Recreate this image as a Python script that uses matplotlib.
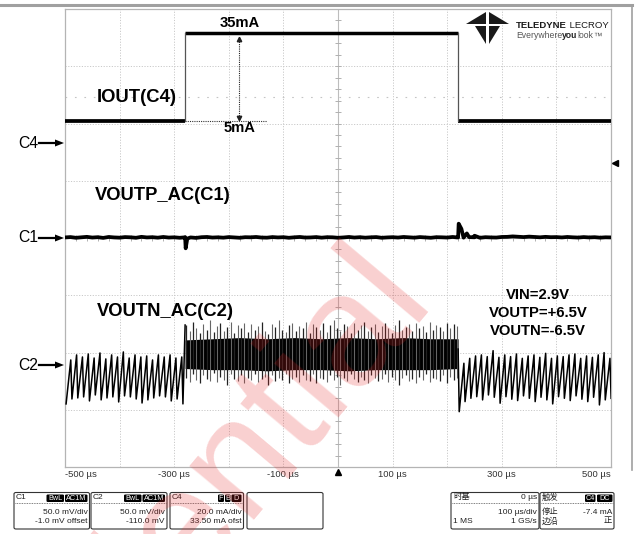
import matplotlib
matplotlib.use("Agg")
import matplotlib.pyplot as plt
from matplotlib.patches import FancyBboxPatch, Polygon
from matplotlib.lines import Line2D
import numpy as np

plt.rcParams['font.family'] = ['Liberation Sans', 'Noto Sans CJK SC', 'DejaVu Sans']

# ---------------- horizontal scale ----------------
time_ticks_us = [-500, -300, -100, 100, 300, 500]
time_tick_labels = ["-500 µs", "-300 µs", "-100 µs", "100 µs", "300 µs", "500 µs"]

# ---------------- load step (C4, IOUT) ----------------
step_times_us = [-280, 220]
iout_levels_mA = [5, 35]

# ---------------- C1: VOUTP, AC coupled ----------------
c1_base_mV = [1.5, 1.8, 1.2, 1.6, 2.0, 1.4, 1.7, 1.1, 1.9, 1.5, 1.3,
              1.8, 1.6, 1.2, 2.0, 1.5, 1.7, 1.3, 1.9, 1.4, 1.6,
              1.2, 1.8, 1.5, 1.1, 1.7, 1.9, 1.4, 1.6, 1.3, 1.8,
              1.5, 1.2, 1.7, 1.6, 1.9, 1.4, 1.3, 1.8, 1.5, 1.7,
              1.2, 1.6, 1.9, 1.4, 1.5, 1.8, 1.3, 1.7, 1.6, 1.2,
              1.5, 1.9, 1.4, 1.7, 1.3, 1.6, 1.8, 1.2, 1.5, 1.7,
              1.4, 1.9, 1.6, 1.3, 1.8, 1.5, 1.2, 1.7, 1.6, 1.4,
              1.9, 1.5, 1.3, 1.8, 1.6, 1.2, 1.7, 1.5, 1.4, 1.9,
              2.0, 2.4, 2.1, 1.8, 2.2, 1.9, 1.6, 2.0, 1.7, 1.8,
              1.5, 1.9, 1.6, 1.4, 1.8, 1.5, 1.7, 1.3, 1.6, 1.5]
c1_event_t_us = [-282, -279, -276, 218, 221, 226, 236, 250]
c1_event_mV = [1.5, -8.0, 0.5, 1.5, 13.5, 9.0, 5.0, 3.0]

# ---------------- C2: VOUTN, AC coupled ----------------
ripple_period_us = 10.7
c2_pre_trough_mV = [-34.9, -30.6, -29.7, -28.8, -32.3, -27.1, -31.4, -29.7, -28.8, -33.2, -27.9,
                    -28.8, -30.6, -34.1, -31.4, -29.7, -27.9, -28.8, -32.3, -30.6, -34.9]
c2_pre_peak_mV = [3.5, 7.9, 6.1, 8.7, 5.2, 9.6, 4.4, 7.9, 6.1, 10.5,
                  5.2, 7.9, 6.1, 7.0, 3.5, 7.9, 6.1, 7.9, 5.2, 6.1]
c2_post_trough_mV = [-41.7, -32.9, -30.0, -28.6, -31.4, -27.1, -29.1, -34.3, -28.6, -30.8, -32.0,
                     -27.9, -30.0, -32.9, -29.1, -31.4, -34.9, -28.6, -30.0, -32.0, -27.9,
                     -30.8, -32.9, -29.1, -35.8, -31.4, -30.0]
c2_post_peak_mV = [0.6, 4.9, 7.0, 7.9, 6.4, 11.6, 5.8, 7.9, 6.4, 8.7, 4.9, 7.0, 7.9,
                   5.8, 9.3, 4.9, 7.0, 6.4, 7.9, 8.7, 4.9, 7.0, 5.8, 7.9, 9.9, 4.9]
c2_core_top_mV = [21, 22, 23, 22, 23, 22, 23, 22, 23, 22, 22]
c2_core_bot_mV = [-4, -5, -5, -6, -5, -5, -6, -5, -5, -5, -4]
c2_spike_top_mV = [34, 29, 37, 31, 27, 35, 30, 38, 28, 33, 36, 29, 32, 37, 27, 34,
                   31, 36, 28, 35, 30, 33, 37, 29, 26, 35, 32, 38, 30, 28, 34, 36,
                   29, 33, 31, 37, 27, 35, 32, 30, 36, 28, 34, 38, 31, 29, 35, 33,
                   27, 36, 30, 34, 37, 29, 32, 35, 28, 33, 36, 31, 27, 34, 38, 30,
                   32, 35, 29, 36, 31, 33, 28, 37, 30, 34, 32, 29, 36, 31, 35, 33]
c2_spike_bot_mV = [-12, -16, -9, -14, -17, -10, -13, -15, -8, -16, -11, -14, -18, -9, -13, -15,
                   -10, -17, -12, -14, -9, -16, -13, -11, -18, -10, -15, -12, -14, -9, -17, -13,
                   -11, -16, -10, -14, -15, -9, -17, -12, -13, -16, -10, -14, -11, -18, -12, -15,
                   -9, -13, -16, -11, -14, -17, -10, -12, -15, -13, -9, -16, -11, -14, -18, -12,
                   -10, -15, -13, -17, -11, -14, -9, -16, -12, -13, -15, -10, -17, -11, -14, -12]

# channel display settings (volts/div and offsets shown in the channel boxes)
C1_SCALE, C1_OFFSET = 50.0, 1.0        # mV/div, mV shift on screen
C2_SCALE, C2_OFFSET = 50.0, -110.0
IOUT_SCALE, IOUT_ZERO_DIV = 19.5, 1.784  # mA/div, zero line position (div)


def c1_div(v):
    return (np.asarray(v, float) - C1_OFFSET) / C1_SCALE


def c2_div(v):
    return (np.asarray(v, float) + C2_OFFSET) / C2_SCALE


def c4_div(v):
    return IOUT_ZERO_DIV + np.asarray(v, float) / IOUT_SCALE


# ---------------- figure ----------------
W, H = 636, 534
fig = plt.figure(figsize=(W / 100, H / 100), dpi=100)
fig.patch.set_facecolor('white')


def fx(x):
    return x / W


def fy(y):
    return 1 - y / H


AX_L, AX_R, AX_T, AX_B = 65, 611, 9, 467
ax = fig.add_axes([fx(AX_L), fy(AX_B), (AX_R - AX_L) / W, (AX_B - AX_T) / H])
ax.set_xlim(-500, 500)
ax.set_ylim(-4, 4)
for s in ax.spines.values():
    s.set_color('#b4b4b4')
    s.set_linewidth(0.9)
ax.set_yticks([])
ax.set_xticks(time_ticks_us, time_tick_labels)
ax.tick_params(axis='x', length=0, pad=2.0, labelsize=6.8, colors='#333333')
tl = ax.get_xticklabels()
tl[0].set_horizontalalignment('left')
tl[-1].set_horizontalalignment('right')

# graticule
grid_kw = dict(color='#c9c9c9', lw=0.7, ls=(0, (1.2, 1.6)), zorder=1)
for gx in range(-400, 500, 100):
    if gx != 0:
        ax.axvline(gx, **grid_kw)
for gy in [-3, -2, -1, 1, 2, 3]:
    ax.axhline(gy, **grid_kw)
ax.axvline(0, color='#bdbdbd', lw=0.8, zorder=1)
ax.axhline(0, color='#bdbdbd', lw=0.8, zorder=1)
ax.plot(np.zeros(41), np.linspace(-4, 4, 41), ls='none', marker='_', ms=4,
        mew=0.7, color='#b0b0b0', zorder=1)
ax.plot(np.linspace(-500, 500, 51), np.zeros(51), ls='none', marker='|', ms=4,
        mew=0.7, color='#b0b0b0', zorder=1)
ax.axhline(2.47, color='#c4c4c4', lw=0.8, ls=(0, (1.5, 7)), zorder=1)

# ---------------- IOUT trace ----------------
lo, hi = c4_div(iout_levels_mA)
t_on, t_off = step_times_us
ax.plot([-500, t_on], [lo, lo], color='black', lw=2.7, solid_capstyle='butt', zorder=4)
ax.plot([t_on, t_off], [hi, hi], color='black', lw=2.5, solid_capstyle='butt', zorder=4)
ax.plot([t_off, 500], [lo, lo], color='black', lw=2.7, solid_capstyle='butt', zorder=4)
ax.plot([t_on, t_on], [lo, hi], color='#555555', lw=0.9, zorder=4)
ax.plot([t_off, t_off], [lo, hi], color='#555555', lw=0.9, zorder=4)

# step size marker
ax.plot([t_on, -130], [lo, lo], color='#333333', lw=0.8, ls=(0, (1, 1)), zorder=3)
t_arrow = -180.8
ax.plot([t_arrow, t_arrow], [lo + 0.05, hi - 0.1], color='#222222', lw=0.8,
        ls=(0, (1, 1)), zorder=3)
ax.plot([t_arrow], [hi - 0.1], marker='^', ms=3.2, color='#222222', zorder=3)
ax.plot([t_arrow], [lo + 0.05], marker='v', ms=3.2, color='#222222', zorder=3)

# ---------------- C1 trace ----------------
c1_t = list(np.linspace(-500, 500, len(c1_base_mV)))
c1_v = list(c1_base_mV)
pairs = sorted(list(zip(c1_t, c1_v)) + list(zip(c1_event_t_us, c1_event_mV)))
ct, cv = zip(*pairs)
ax.plot(ct, c1_div(cv), color='black', lw=2.7, zorder=4)

# ---------------- C2 trace ----------------
T = ripple_period_us
pre_t, pre_v = [], []
t_first = -498.0
for i, tr in enumerate(c2_pre_trough_mV):
    t0 = t_first + i * T
    pre_t.append(t0)
    pre_v.append(tr)
    if i < len(c2_pre_peak_mV):
        pre_t.append(t0 + 0.8 * T)
        pre_v.append(c2_pre_peak_mV[i])
pre_t.append(t_on)
pre_v.append(c2_spike_top_mV[0])
ax.plot(pre_t, c2_div(pre_v), color='black', lw=1.1, zorder=4)

core_t = np.linspace(t_on, t_off, len(c2_core_top_mV))
ax.fill_between(core_t, c2_div(c2_core_bot_mV), c2_div(c2_core_top_mV),
                color='black', lw=0, zorder=4)
spike_t = np.linspace(t_on + 2, t_off - 2, len(c2_spike_top_mV))
ax.vlines(spike_t[0::2], c2_div(c2_spike_bot_mV[0::2]), c2_div(c2_spike_top_mV[0::2]),
          color='#222222', lw=0.9, zorder=4)
ax.vlines(spike_t[1::2], c2_div(c2_spike_bot_mV[1::2]), c2_div(c2_spike_top_mV[1::2]),
          color='#666666', lw=0.8, zorder=4)

post_t, post_v = [t_off], [c2_spike_top_mV[-1] - 20]
t_first_post = 222.0
for i, tr in enumerate(c2_post_trough_mV):
    t0 = t_first_post + i * T
    post_t.append(t0)
    post_v.append(tr)
    if i < len(c2_post_peak_mV):
        post_t.append(t0 + 0.8 * T)
        post_v.append(c2_post_peak_mV[i])
ax.plot(post_t, c2_div(post_v), color='black', lw=1.1, zorder=4)

# trigger markers
ax.plot([0], [-4.08], marker='^', ms=4.5, color='black', clip_on=False, zorder=6)
ax.plot([507.5], [1.31], marker='<', ms=4.5, color='black', clip_on=False, zorder=6)

# ---------------- trace annotations ----------------
bold = dict(fontweight='bold', color='black')
fig.text(fx(240), fy(23), "35mA", fontsize=10.6, ha='center', va='center', **bold)
fig.text(fx(240), fy(128), "5mA", fontsize=10.6, ha='center', va='center', **bold)
fig.text(fx(97), fy(98), "IOUT(C4)", fontsize=13.3, ha='left', va='center', **bold)
fig.text(fx(95), fy(196), "VOUTP_AC(C1)", fontsize=13.2, ha='left', va='center', **bold)
fig.text(fx(97), fy(312), "VOUTN_AC(C2)", fontsize=13.2, ha='left', va='center', **bold)
for txt, yy in [("VIN=2.9V", 295), ("VOUTP=+6.5V", 313), ("VOUTN=-6.5V", 331)]:
    fig.text(fx(538), fy(yy), txt, fontsize=10.7, ha='center', va='center', **bold)

for name, yy in [("C4", 143), ("C1", 238), ("C2", 365)]:
    fig.text(fx(38), fy(yy), name, fontsize=11.3, ha='right', va='center', color='black')
    fig.add_artist(Line2D([fx(39), fx(57)], [fy(yy), fy(yy)], color='black', lw=1.6))
    fig.add_artist(Polygon([[fx(55), fy(yy - 3.5)], [fx(64), fy(yy)], [fx(55), fy(yy + 3.5)]],
                           closed=True, color='black', lw=0))

# ---------------- screen frame ----------------
fig.add_artist(Line2D([0, fx(632)], [fy(4.5), fy(4.5)], color='#a0a0a0', lw=2.2))
fig.add_artist(Line2D([fx(632), fx(632)], [fy(4.5), fy(470)], color='#a0a0a0', lw=1.2))

# ---------------- logo ----------------
logo = [
    [(466, 24), (486, 12), (486, 24)],
    [(475, 26), (486, 26), (486, 44)],
    [(509, 24), (489, 12), (489, 24)],
    [(500, 26), (489, 26), (489, 44)],
]
for poly in logo:
    fig.add_artist(Polygon([[fx(a), fy(b)] for a, b in poly], closed=True,
                           color='#1a1a1a', lw=0))

renderer = fig.canvas.get_renderer()


def run_text(x, y, pieces, size):
    for txt, weight, col in pieces:
        t = fig.text(fx(x), fy(y), txt, fontsize=size, fontweight=weight, color=col,
                     ha='left', va='center')
        x += t.get_window_extent(renderer).width


run_text(516, 26, [("TELEDYNE", 'bold', '#1a1a1a'), (" LECROY", 'normal', '#1a1a1a')], 6.8)
run_text(516, 36, [("Everywhere", 'normal', '#555555'), ("you", 'bold', '#222222'),
                   ("look", 'normal', '#555555'), ("™", 'normal', '#555555')], 6.2)

# ---------------- info boxes ----------------
BOX_T, BOX_B = 492.5, 529
SEP_Y = 503
ROW_Y = [497.5, 512, 521.5]


def info_box(x0, x1, header="", header_r="", badges=(), rows=()):
    fig.add_artist(FancyBboxPatch((fx(x0), fy(BOX_B)), (x1 - x0) / W, (BOX_B - BOX_T) / H,
                                  boxstyle="round,pad=0,rounding_size=0.003",
                                  transform=fig.transFigure, fc='white', ec='#333333', lw=0.8))
    if header or badges or header_r:
        fig.add_artist(Line2D([fx(x0 + 1), fx(x1 - 1)], [fy(SEP_Y), fy(SEP_Y)],
                              color='#555555', lw=0.6, ls=(0, (1, 1))))
    if header:
        fig.text(fx(x0 + 2), fy(ROW_Y[0]), header, fontsize=6, ha='left', va='center',
                 color='#222222')
    if header_r:
        fig.text(fx(x1 - 2), fy(ROW_Y[0]), header_r, fontsize=6, ha='right', va='center',
                 color='#222222')
    for bx0, bx1, label in badges:
        fig.add_artist(FancyBboxPatch((fx(bx0), fy(502)), (bx1 - bx0) / W, 7.5 / H,
                                      boxstyle="round,pad=0,rounding_size=0.002",
                                      transform=fig.transFigure, fc='black', ec='none'))
        fig.text(fx((bx0 + bx1) / 2), fy(498.3), label, fontsize=5.2, ha='center',
                 va='center', color='white')
    for r, (left, right) in enumerate(rows):
        yy = ROW_Y[r + 1]
        if left:
            fig.text(fx(x0 + 2), fy(yy), left, fontsize=6, ha='left', va='center',
                     color='#222222')
        if right:
            fig.text(fx(x1 - 2), fy(yy), right, fontsize=6, ha='right', va='center',
                     color='#222222')


info_box(14, 89.5, "C1", badges=[(46.5, 64, "BwL"), (65, 87.5, "AC1M")],
         rows=[("", "50.0 mV/div"), ("", "-1.0 mV offset")])
info_box(91, 167, "C2", badges=[(124, 141.5, "BwL"), (142.5, 165, "AC1M")],
         rows=[("", "50.0 mV/div"), ("", "-110.0 mV")])
info_box(170, 243.5, "C4", badges=[(218, 224, "F"), (225, 230.5, "B"), (231.5, 241.5, "D")],
         rows=[("", "20.0 mA/div"), ("", "33.50 mA ofst")])
info_box(247, 323)
info_box(451, 539, "时基", "0 µs", rows=[("", "100 µs/div"), ("1 MS", "1 GS/s")])
info_box(540, 614, "触发", badges=[(585, 595.5, "C4"), (597, 612.5, "DC")],
         rows=[("停止", "-7.4 mA"), ("边沿", "正")])

# ---------------- watermark ----------------
fig.text(fx(434), fy(297), "Confidential", fontsize=115, rotation=50,
         rotation_mode='anchor', ha='right', va='baseline', color='#e62828', alpha=0.22,
         zorder=20)

fig.savefig("out.png", dpi=100, facecolor='white')
